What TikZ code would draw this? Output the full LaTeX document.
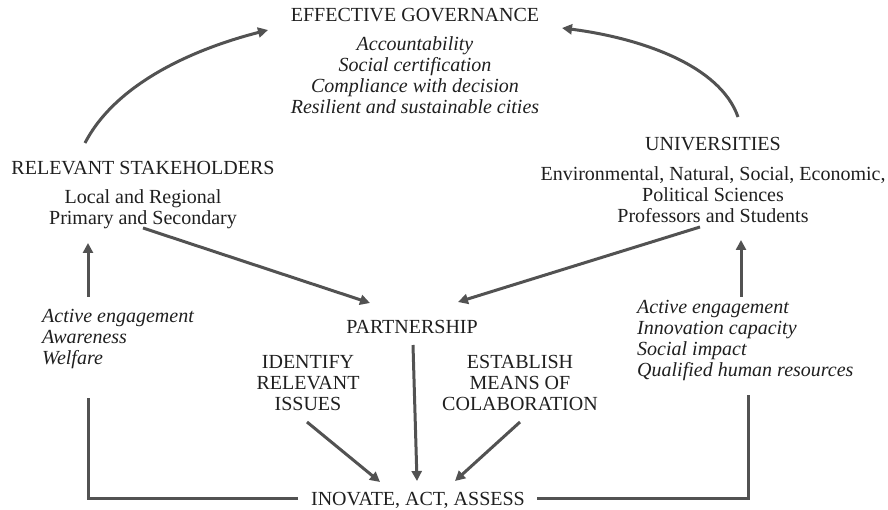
\documentclass[tikz,border=0pt]{standalone}
\usepackage{fontspec}
\setmainfont{Liberation Serif}
\usepackage{tikz}
\usetikzlibrary{arrows.meta}

\begin{document}
\begin{tikzpicture}[
    x=1pt, y=-1pt,
    txt/.style={inner sep=0pt, align=center, text=black!88, font=\fontsize{20}{21}\selectfont},
    itl/.style={txt, font=\fontsize{20}{21}\selectfont\itshape},
    arr/.style={-{Triangle[length=10pt, width=10pt]}, line width=3pt, draw=black!68},
    lnk/.style={line width=3pt, draw=black!68}
]
\useasboundingbox (0,0) rectangle (888,510);

% top goal (multi-line nodes sit on their last baseline)
\node[txt, anchor=base] (gov) at (415,22) {EFFECTIVE GOVERNANCE};
\node[itl, anchor=base] (govlist) at (415,114) {Accountability\\Social certification\\Compliance with decision\\Resilient and sustainable cities};

% the two actors
\node[txt, anchor=base] (stk) at (143,175) {RELEVANT STAKEHOLDERS};
\node[txt, anchor=base] (stklist) at (143,225) {Local and Regional\\Primary and Secondary};
\node[txt, anchor=base] (uni) at (713,151) {UNIVERSITIES};
\node[txt, anchor=base] (unilist) at (713,223) {Environmental, Natural, Social, Economic,\\Political Sciences\\Professors and Students};

% gains of each actor
\node[itl, align=left, anchor=base west] (stkgain) at (42,364) {Active engagement\\Awareness\\Welfare};
\node[itl, align=left, anchor=base west] (unigain) at (637,376) {Active engagement\\Innovation capacity\\Social impact\\Qualified human resources};

% middle part
\node[txt, anchor=base] (partner) at (412,334) {PARTNERSHIP};
\node[txt, anchor=base] (issues) at (308,410) {IDENTIFY\\RELEVANT\\ISSUES};
\node[txt, anchor=base] (means) at (520,410) {ESTABLISH\\MEANS OF\\COLABORATION};
\node[txt, anchor=base] (inov) at (418,505) {INOVATE, ACT, ASSESS};

% curved arrows to the goal
\draw[arr] ([shift={(-58,-32)}]stk.base) .. controls (115,85) and (190,50) .. ([shift={(-147,8)}]gov.base);
\draw[arr] ([shift={(25,-34)}]uni.base) .. controls (720,65) and (640,38) .. ([shift={(147,6)}]gov.base);

% into the partnership
\draw[arr] ([shift={(0,3)}]stklist.base) -- ([shift={(-42,-31)}]partner.base);
\draw[arr] ([shift={(-13,4)}]unilist.base) -- ([shift={(46,-32)}]partner.base);

% gains back to the actors
\draw[arr] ([shift={(46,-67)}]stkgain.base west) -- ([shift={(-55,18)}]stklist.base);
\draw[arr] ([shift={(104,-79)}]unigain.base west) -- ([shift={(28,17)}]unilist.base);

% down to the action
\draw[arr] ([shift={(1,11)}]partner.base) -- ([shift={(-1,-24)}]inov.base);
\draw[arr] ([shift={(-1,12)}]issues.base) -- ([shift={(-38,-23)}]inov.base);
\draw[arr] ([shift={(0,12)}]means.base) -- ([shift={(37,-24)}]inov.base);

% feedback lines
\draw[lnk] ([shift={(-120,-7)}]inov.base) -| ([shift={(46,34)}]stkgain.base west);
\draw[lnk] ([shift={(119,-7)}]inov.base) -| ([shift={(111,19)}]unigain.base west);

\end{tikzpicture}
\end{document}
